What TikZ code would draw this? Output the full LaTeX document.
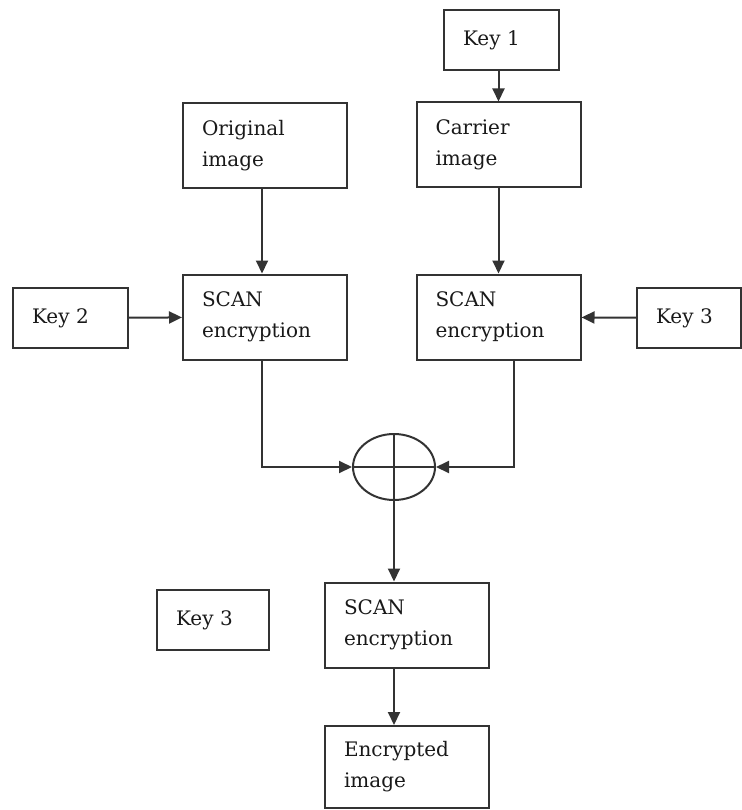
\documentclass[tikz,border=0pt]{standalone}
\usepackage{fontspec}
\setmainfont{DejaVu Serif}
\usetikzlibrary{arrows.meta,shapes.geometric}
\begin{document}
\begin{tikzpicture}[x=1pt,y=-1pt,line width=2pt,draw=black!80,
  >={Triangle[length=13pt,width=12pt]},
  blk/.style={draw, line width=2pt, align=left, inner xsep=19pt, inner ysep=0pt, font=\fontsize{20}{31}\selectfont, text=black!90},
  keybox/.style={blk, minimum height=60pt},
  procbox/.style={blk, minimum height=85pt, text width=126pt}]
\useasboundingbox (0,0) rectangle (741,810);
\node[keybox, minimum width=115pt, text width=77pt] (key1) at (501.5,40) {Key 1};
\node[procbox] (orig) at (265,145.5) {Original\\image};
\node[procbox] (carr) at (498.5,145) {Carrier\\image};
\node[keybox, minimum width=115pt, text width=77pt] (key2) at (70.5,318) {Key 2};
\node[procbox] (scanl) at (265,317) {SCAN\\encryption};
\node[procbox] (scanr) at (498.5,317) {SCAN\\encryption};
\node[keybox, minimum width=104pt, text width=66pt] (key3) at (689,318) {Key 3};
\node[draw, line width=2pt, ellipse, minimum width=82pt, minimum height=66pt, inner sep=0pt] (xor) at (394,467) {};
\node[keybox, minimum width=112pt, text width=74pt] (key3b) at (213,620) {Key 3};
\node[procbox] (scanb) at (407,625) {SCAN\\encryption};
\node[procbox, minimum height=82pt] (enc) at (407,767) {Encrypted\\image};
\draw (xor.north) -- (xor.south);
\draw (xor.west) -- (xor.east);
\draw[->] (key1.south -| carr.north) -- (carr.north);
\draw[->] ([xshift=-3pt]orig.south) -- ([xshift=-3pt]scanl.north);
\draw[->] (carr.south) -- (scanr.north);
\draw[->] (key2) -- (scanl);
\draw[->] (key3) -- (scanr);
\draw[->] ([xshift=-3pt]scanl.south) |- (xor.west);
\draw[->] ([xshift=15.5pt]scanr.south) |- (xor.east);
\draw[->] (xor.south) -- (xor.south |- scanb.north);
\draw[->] (xor.south |- scanb.south) -- (xor.south |- enc.north);
\end{tikzpicture}
\end{document}
